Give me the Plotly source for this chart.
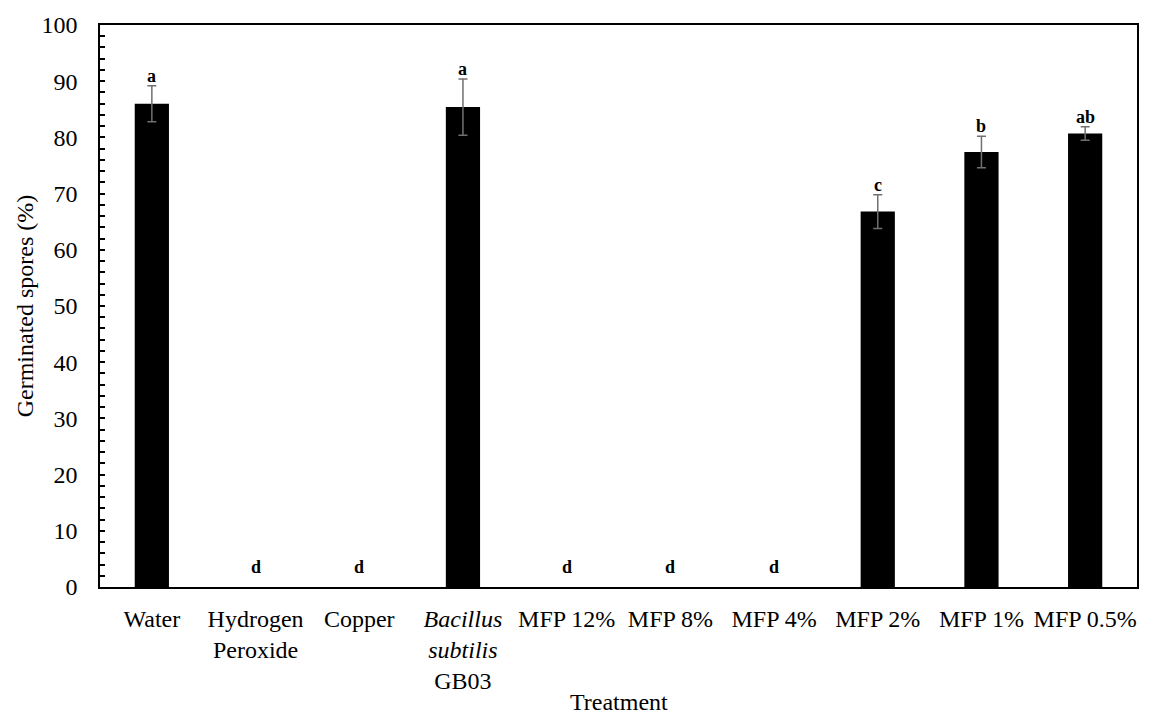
import plotly.graph_objects as go

# Treatments and germination results
categories = [
    "Water", "Hydrogen<br>Peroxide", "Copper", "<i>Bacillus</i><br><i>subtilis</i><br>GB03",
    "MFP 12%", "MFP 8%", "MFP 4%", "MFP 2%", "MFP 1%", "MFP 0.5%",
]
germinated = [86.0, 0, 0, 85.4, 0, 0, 0, 66.8, 77.4, 80.7]
std_err = [3.2, 0, 0, 5.0, 0, 0, 0, 3.0, 2.8, 1.2]
letters = ["a", "d", "d", "a", "d", "d", "d", "c", "b", "ab"]

serif = "Liberation Serif, Times New Roman, serif"

# treatments with germination get whiskers; those with none are drawn plain
with_growth = [i for i, v in enumerate(germinated) if v > 0]
no_growth = [i for i, v in enumerate(germinated) if v <= 0]

fig = go.Figure()
fig.add_trace(go.Bar(
    x=[categories[i] for i in with_growth],
    y=[germinated[i] for i in with_growth],
    marker=dict(color="black", line=dict(width=0)),
    error_y=dict(type="data", array=[std_err[i] for i in with_growth], visible=True,
                 color="#707070", thickness=1.5, width=4.5),
    width=0.33,
    showlegend=False,
))
fig.add_trace(go.Bar(
    x=[categories[i] for i in no_growth],
    y=[germinated[i] for i in no_growth],
    marker=dict(color="black", line=dict(width=0)),
    width=0.33,
    showlegend=False,
))

# Significance letters above each bar
for cat, v, e, lab in zip(categories, germinated, std_err, letters):
    fig.add_annotation(
        x=cat, y=v + e, text=f"<b>{lab}</b>", showarrow=False,
        yanchor="bottom", yshift=-2 if v > 0 else 8,
        font=dict(family=serif, size=18, color="black"),
    )

# Axis titles
fig.add_annotation(
    xref="paper", yref="paper", x=-0.072, y=0.5,
    text="Germinated spores (%)", textangle=-90, showarrow=False,
    xanchor="center", yanchor="middle",
    font=dict(family=serif, size=24, color="black"),
)
fig.add_annotation(
    xref="paper", yref="paper", x=0.5, y=-0.205,
    text="Treatment", showarrow=False,
    xanchor="center", yanchor="middle",
    font=dict(family=serif, size=24, color="black"),
)

fig.update_layout(
    width=1159, height=716,
    margin=dict(l=100, r=22, t=21, b=129),
    paper_bgcolor="white", plot_bgcolor="white",
    barmode="overlay",
    font=dict(family=serif, size=24, color="black"),
    xaxis=dict(
        type="category", categoryorder="array", categoryarray=categories,
        showline=True, linecolor="black", linewidth=1.5, mirror=True,
        ticks="", ticklabelstandoff=9, showgrid=False,
        tickfont=dict(family=serif, size=24, color="black"),
        range=[-0.5, 9.5],
    ),
    yaxis=dict(
        range=[0, 100], dtick=10, showgrid=False, zeroline=False,
        showline=True, linecolor="black", linewidth=1.5, mirror=True,
        ticks="inside", ticklen=5, tickwidth=1.5, tickcolor="black",
        ticklabelstandoff=16,
        minor=dict(dtick=2, ticks="inside", ticklen=5, tickwidth=1.5, tickcolor="black"),
        tickfont=dict(family=serif, size=24, color="black"),
    ),
)

fig.write_html("out.html")
